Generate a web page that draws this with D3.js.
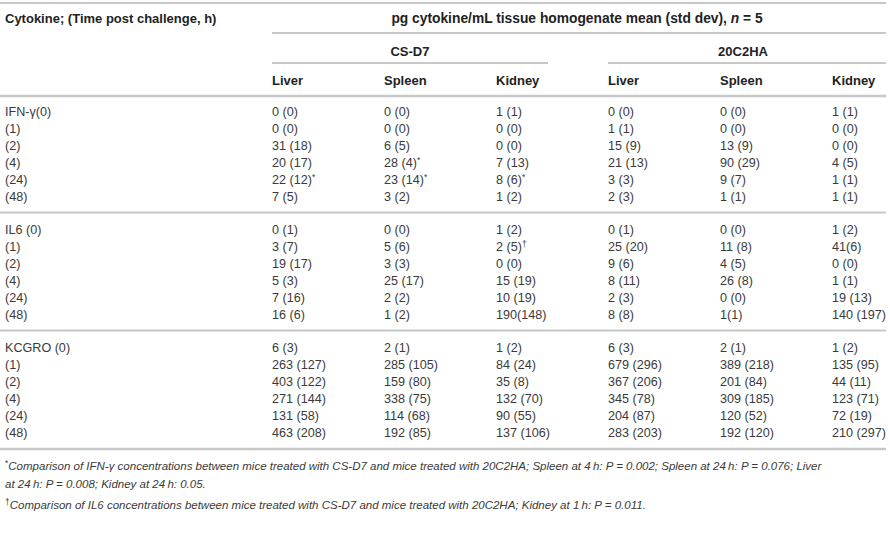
<!DOCTYPE html>
<html>
<head>
<meta charset="utf-8">
<script src="https://cdn.jsdelivr.net/npm/d3@7"></script>
<style>
  body { margin: 0; background: #fff; }
  svg text { font-family: "Liberation Sans", Arial, sans-serif; }
</style>
</head>
<body>
<div id="table"></div>
<script>
// Table contents
const groups = ["CS-D7", "20C2HA"];
const organs = ["Liver", "Spleen", "Kidney"];
const columns = ["CS-D7 Liver", "CS-D7 Spleen", "CS-D7 Kidney", "20C2HA Liver", "20C2HA Spleen", "20C2HA Kidney"];
const times = ["(0)", "(1)", "(2)", "(4)", "(24)", "(48)"];
const cytokines = ["IFN-\u03b3", "IL6 ", "KCGRO "];

const ifnValues = [
    ["0 (0)", "0 (0)", "1 (1)", "0 (0)", "0 (0)", "1 (1)"],
    ["0 (0)", "0 (0)", "0 (0)", "1 (1)", "0 (0)", "0 (0)"],
    ["31 (18)", "6 (5)", "0 (0)", "15 (9)", "13 (9)", "0 (0)"],
    ["20 (17)", "28 (4)*", "7 (13)", "21 (13)", "90 (29)", "4 (5)"],
    ["22 (12)*", "23 (14)*", "8 (6)*", "3 (3)", "9 (7)", "1 (1)"],
    ["7 (5)", "3 (2)", "1 (2)", "2 (3)", "1 (1)", "1 (1)"]
];
const il6Values = [
    ["0 (1)", "0 (0)", "1 (2)", "0 (1)", "0 (0)", "1 (2)"],
    ["3 (7)", "5 (6)", "2 (5)\u2020", "25 (20)", "11 (8)", "41(6)"],
    ["19 (17)", "3 (3)", "0 (0)", "9 (6)", "4 (5)", "0 (0)"],
    ["5 (3)", "25 (17)", "15 (19)", "8 (11)", "26 (8)", "1 (1)"],
    ["7 (16)", "2 (2)", "10 (19)", "2 (3)", "0 (0)", "19 (13)"],
    ["16 (6)", "1 (2)", "190(148)", "8 (8)", "1(1)", "140 (197)"]
];
const kcgroValues = [
    ["6 (3)", "2 (1)", "1 (2)", "6 (3)", "2 (1)", "1 (2)"],
    ["263 (127)", "285 (105)", "84 (24)", "679 (296)", "389 (218)", "135 (95)"],
    ["403 (122)", "159 (80)", "35 (8)", "367 (206)", "201 (84)", "44 (11)"],
    ["271 (144)", "338 (75)", "132 (70)", "345 (78)", "309 (185)", "123 (71)"],
    ["131 (58)", "114 (68)", "90 (55)", "204 (87)", "120 (52)", "72 (19)"],
    ["463 (208)", "192 (85)", "137 (106)", "283 (203)", "192 (120)", "210 (297)"]
];
const footnotes = [
    ["*", "Comparison of IFN-\u03b3 concentrations between mice treated with CS-D7 and mice treated with 20C2HA; Spleen at 4\u2009h: P = 0.002; Spleen at 24\u2009h: P = 0.076; Liver"],
    ["", "at 24\u2009h: P = 0.008; Kidney at 24\u2009h: 0.05."],
    ["\u2020", "Comparison of IL6 concentrations between mice treated with CS-D7 and mice treated with 20C2HA; Kidney at 1\u2009h: P = 0.011."]
];

function drawTable() {
    const width = 890;
    const height = 560;
    const left = 0, right = 886;
    const rowStep = 17;
    const groupGap = 16;
    const firstRow = 115.5;

    const svg = d3.select("#table")
        .append("svg")
        .attr("width", width)
        .attr("height", height);

    const allValues = [ifnValues, il6Values, kcgroValues];

    // flatten rows
    const rows = [];
    allValues.forEach((block, gi) => {
        block.forEach((cells, ti) => {
            rows.push({
                group: gi,
                label: ti === 0 ? cytokines[gi] + times[ti] : times[ti],
                cells: cells
            });
        });
    });

    const x = d3.scaleBand()
        .domain(columns)
        .range([272, 272 + 112 * 6]);

    const y = (d, i) => firstRow + i * rowStep + d.group * groupGap;

    // group spans: start of first column to end of the rule
    const groupSpan = [
        [x(columns[0]), x(columns[2]) + 52],
        [x(columns[3]), right]
    ];

    // rules
    const rule = (x1, x2, yy, w) => svg.append("line")
        .attr("x1", x1).attr("x2", x2)
        .attr("y1", yy).attr("y2", yy)
        .attr("stroke", "#c8c8c8")
        .attr("stroke-width", w);

    rule(left, right, 3, 2);
    rule(x(columns[0]), right, 33, 2);
    groupSpan.forEach(s => rule(s[0], s[1], 63, 2));
    rule(left, right, 96, 2.5);
    rule(left, right, 212.5, 2);
    rule(left, right, 330.5, 2);
    rule(left, right, 449, 2.5);

    // header
    const head = svg.append("g")
        .attr("font-weight", "bold")
        .attr("font-size", 13)
        .attr("fill", "#222");

    head.append("text")
        .attr("x", 5).attr("y", 22.5)
        .text("Cytokine; (Time post challenge, h)");

    const unit = head.append("text")
        .attr("x", 577).attr("y", 22.5)
        .attr("font-size", 13.8)
        .attr("text-anchor", "middle");
    unit.append("tspan").text("pg cytokine/mL tissue homogenate mean (std dev), ");
    unit.append("tspan").attr("font-style", "italic").text("n");
    unit.append("tspan").text(" = 5");

    head.selectAll(".group")
        .data(groups)
        .join("text")
        .attr("class", "group")
        .attr("x", (d, i) => (groupSpan[i][0] + groupSpan[i][1]) / 2 - (i ? 4 : 0))
        .attr("y", 56)
        .attr("text-anchor", "middle")
        .text(d => d);

    head.selectAll(".organ")
        .data(columns)
        .join("text")
        .attr("class", "organ")
        .attr("x", d => x(d))
        .attr("y", 84.5)
        .text((d, i) => organs[i % 3]);

    // body
    const body = svg.append("g")
        .attr("font-size", 12.6)
        .attr("fill", "#3a3a3a");

    const rowG = body.selectAll(".row")
        .data(rows)
        .join("g")
        .attr("class", "row")
        .attr("transform", (d, i) => `translate(0,${y(d, i)})`);

    rowG.append("text")
        .attr("x", 5)
        .text(d => d.label);

    rowG.selectAll(".cell")
        .data(d => d.cells.map((c, j) => ({ text: c, col: columns[j] })))
        .join("text")
        .attr("class", "cell")
        .attr("x", d => x(d.col))
        .each(function(d) {
            const t = d3.select(this);
            const m = d.text.match(/^(.*?)([*\u2020]?)$/);
            t.append("tspan").text(m[1]);
            if (m[2]) {
                t.append("tspan")
                    .attr("font-size", 8.5)
                    .attr("dy", -4)
                    .text(m[2]);
            }
        });

    // footnotes
    const notes = svg.append("g")
        .attr("font-size", 11.5)
        .attr("font-style", "italic")
        .attr("fill", "#3a3a3a");

    notes.selectAll("text")
        .data(footnotes)
        .join("text")
        .attr("x", 5)
        .attr("y", (d, i) => [470, 488, 509][i])
        .each(function(d) {
            const t = d3.select(this);
            if (d[0]) {
                t.append("tspan")
                    .attr("font-size", 8.5)
                    .attr("font-style", "normal")
                    .attr("dy", -4)
                    .text(d[0]);
                t.append("tspan").attr("dy", 4).text(d[1]);
            } else {
                t.append("tspan").text(d[1]);
            }
        });
}

drawTable();
</script>
</body>
</html>
